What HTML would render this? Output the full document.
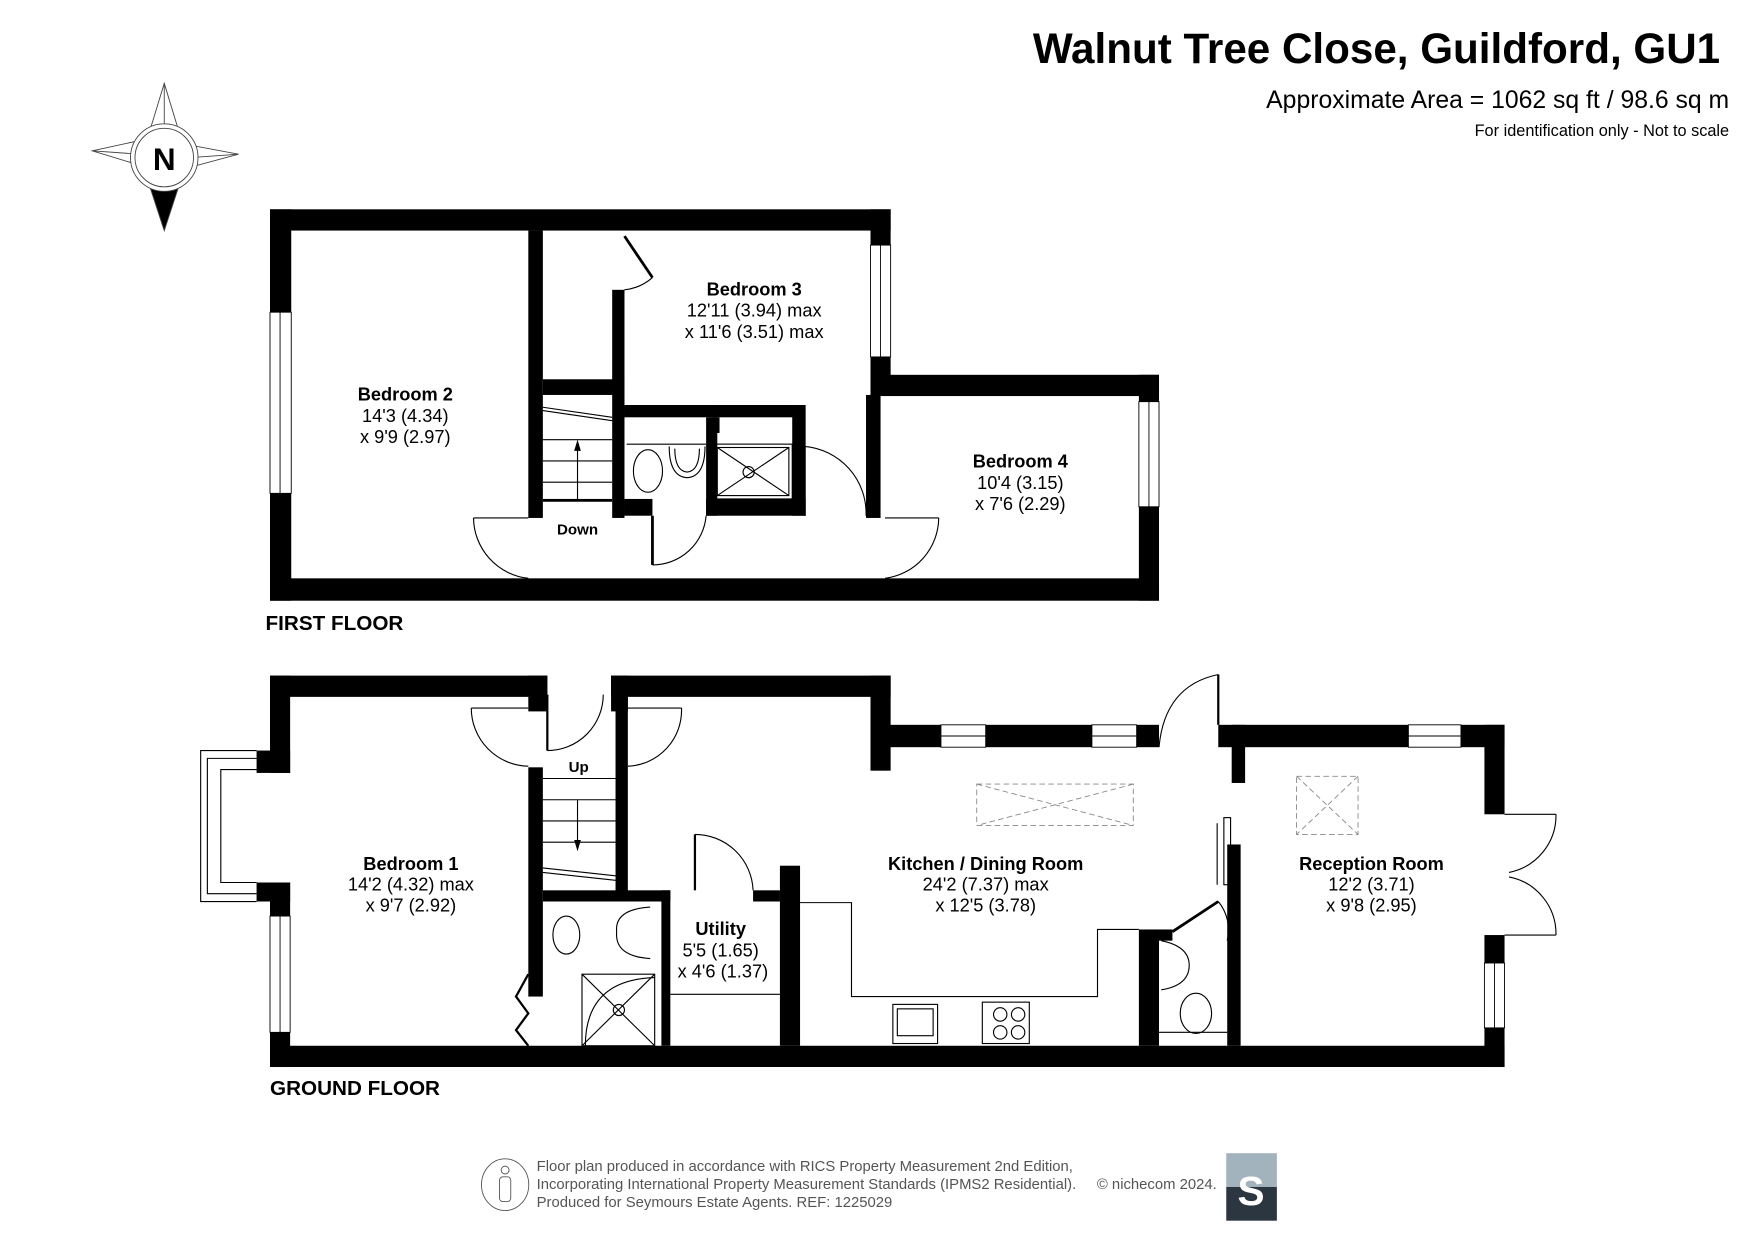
<!DOCTYPE html>
<html><head><meta charset="utf-8"><style>
html,body{margin:0;padding:0;background:#fff;}
svg{display:block;}
text{font-family:"Liberation Sans",Arial,sans-serif;}
.rn{font-weight:bold;font-size:16.3px;text-anchor:middle;}
.dm{font-size:16.3px;text-anchor:middle;}
.th{fill:none;stroke:#000;stroke-width:1;}
.tg{fill:none;stroke:#555;stroke-width:0.8;}
</style></head><body>
<svg width="1755" height="1241" viewBox="0 0 1560 1103" xmlns="http://www.w3.org/2000/svg">
<rect width="1560" height="1103" fill="#fff"/>
<text x="1529" y="56" font-size="37.5" font-weight="bold" text-anchor="end">Walnut Tree Close, Guildford, GU1</text>
<text x="1537" y="96" font-size="22" text-anchor="end">Approximate Area = 1062 sq ft / 98.6 sq m</text>
<text x="1537" y="121" font-size="14.5" text-anchor="end">For identification only - Not to scale</text>

<g stroke="#444" stroke-width="0.8" fill="#fff">
<polygon points="146,74 160,120 146,140 132,120"/>
<polygon points="82,134 128,124 146,140 128,148"/>
<polygon points="212,137 164,128 146,140 164,150"/>
<line x1="146" y1="74" x2="146" y2="118"/><line x1="82" y1="134" x2="124" y2="137"/><line x1="212" y1="137" x2="170" y2="140"/>
<polygon points="128,150 164,150 146,205" fill="#000"/>
<circle cx="146" cy="140" r="30"/><circle cx="146" cy="140" r="26"/>
</g>
<text x="146" y="151" font-size="28" font-weight="bold" text-anchor="middle">N</text>

<g transform="translate(240,186) scale(0.994) translate(-240,-186)">
<g fill="#000">
<rect x="240" y="186" width="555" height="19"/>
<rect x="240" y="186" width="19" height="350"/>
<rect x="240" y="516" width="795" height="20"/>
<rect x="777" y="186" width="18" height="166"/>
<rect x="777" y="334" width="258" height="19"/>
<rect x="1017" y="334" width="18" height="202"/>
<rect x="471" y="205" width="13" height="257"/>
<rect x="484" y="338" width="73" height="14"/>
<rect x="546" y="258" width="11" height="204"/>
<rect x="557" y="361" width="158" height="11"/>
<rect x="630" y="372" width="10" height="88"/>
<rect x="636" y="372" width="6" height="14"/>
<rect x="707" y="361" width="12" height="99"/>
<rect x="630" y="445" width="89" height="15"/>
<rect x="557" y="445" width="25" height="15"/>
<rect x="773" y="352" width="13" height="110"/>
<rect x="484" y="445" width="62" height="2"/>
</g>
<g fill="#fff" stroke="#000" stroke-width="0.8">
<rect x="240" y="278" width="19" height="162"/><line x1="249" y1="278" x2="249" y2="440"/>
<rect x="777" y="218" width="18" height="100"/><line x1="786" y1="218" x2="786" y2="318"/>
<rect x="1017" y="358" width="18" height="94"/><line x1="1026" y1="358" x2="1026" y2="452"/>
</g>
<rect x="636" y="342" width="71" height="19" fill="#fff"/>
<g class="th">
<line x1="484" y1="392" x2="546" y2="392"/><line x1="484" y1="411" x2="546" y2="411"/><line x1="484" y1="430" x2="546" y2="430"/><line x1="484" y1="447" x2="546" y2="447"/>
<line x1="515" y1="447" x2="515" y2="395"/>
<line x1="484" y1="363" x2="546" y2="372"/><line x1="484" y1="366" x2="546" y2="375"/>
</g>
<polygon points="515,392 512,402 518,402" fill="#000"/>
<text x="515" y="477" font-size="13.5" font-weight="bold" text-anchor="middle">Down</text>
<g class="th">
<line x1="557" y1="210" x2="582" y2="247" stroke-width="2.5"/><path d="M582,247 A45,45 0 0 1 557,258"/>
<line x1="422" y1="462" x2="471" y2="462"/><path d="M422,462 A55,55 0 0 0 471,516"/>
<line x1="790" y1="462" x2="838" y2="462"/><path d="M838,462 A55,55 0 0 1 790,516"/>
<line x1="582" y1="460" x2="582" y2="504" stroke-width="2.5"/><path d="M582,504 A48,48 0 0 0 630,460"/>
<line x1="718" y1="398" x2="718" y2="460" stroke-width="2"/><path d="M718,398 A60,60 0 0 1 773,460"/>
</g>
<g class="th">
<line x1="559" y1="396" x2="630" y2="396"/>
<ellipse cx="578" cy="420" rx="13" ry="19"/>
<path d="M597,398 Q597,425 613,426 Q629,425 629,398"/><path d="M602,400 Q602,420 613,421 Q624,420 624,400"/>
<rect x="637" y="396" width="70" height="49"/><rect x="640" y="399" width="64" height="43"/>
<line x1="640" y1="399" x2="704" y2="442"/><line x1="704" y1="399" x2="640" y2="442"/>
<circle cx="668" cy="421" r="5"/>
</g>
<text x="361" y="357" class="rn">Bedroom 2</text><text x="361" y="376" class="dm">14'3 (4.34)</text><text x="361" y="395" class="dm">x 9'9 (2.97)</text>
<text x="673" y="263" class="rn">Bedroom 3</text><text x="673" y="282" class="dm">12'11 (3.94) max</text><text x="673" y="301" class="dm">x 11'6 (3.51) max</text>
<text x="911" y="417" class="rn">Bedroom 4</text><text x="911" y="436" class="dm">10'4 (3.15)</text><text x="911" y="455" class="dm">x 7'6 (2.29)</text>
<text x="236" y="562" font-size="18.5" font-weight="bold">FIRST FLOOR</text>

<g fill="#000">
<rect x="240" y="603" width="248" height="19"/>
<rect x="545" y="603" width="250" height="19"/>
<rect x="471" y="603" width="17" height="32"/>
<rect x="545" y="603" width="15" height="32"/>
<rect x="240" y="603" width="18" height="87"/>
<rect x="228" y="670" width="30" height="20"/>
<rect x="228" y="788" width="30" height="17"/>
<rect x="240" y="788" width="18" height="165"/>
<rect x="240" y="934" width="1104" height="19"/>
<rect x="777" y="603" width="18" height="85"/>
<rect x="777" y="647" width="258" height="20"/>
<rect x="1088" y="647" width="256" height="20"/>
<rect x="1326" y="647" width="18" height="80"/>
<rect x="1326" y="835" width="18" height="118"/>
<rect x="1100" y="647" width="12" height="52"/>
<rect x="1096" y="754" width="12" height="180"/>
<rect x="1017" y="830" width="18" height="104"/>
<rect x="1035" y="830" width="12" height="10"/>
<rect x="471" y="685" width="13" height="205"/>
<rect x="549" y="622" width="11" height="180"/>
<rect x="484" y="795" width="114" height="10"/>
<rect x="590" y="795" width="8" height="139"/>
<rect x="672" y="795" width="24" height="10"/>
<rect x="696" y="773" width="18" height="161"/>
</g>
<g fill="#fff" stroke="#000" stroke-width="0.8">
<rect x="240" y="818" width="18" height="104"/><line x1="249" y1="818" x2="249" y2="922"/>
<rect x="840" y="647" width="40" height="20"/><line x1="840" y1="657" x2="880" y2="657"/>
<rect x="975" y="647" width="40" height="20"/><line x1="975" y1="657" x2="1015" y2="657"/>
<rect x="1258" y="647" width="47" height="20"/><line x1="1258" y1="657" x2="1305" y2="657"/>
<rect x="1326" y="860" width="18" height="58"/><line x1="1335" y1="860" x2="1335" y2="918"/>
</g>
<g class="th">
<polyline points="228,670 178,670 178,805 228,805"/>
<polyline points="228,677 184,677 184,798 228,798"/>
<polyline points="228,687 196,687 196,788 228,788"/>
</g>
<g class="th">
<line x1="484" y1="695" x2="549" y2="695"/><line x1="484" y1="714" x2="549" y2="714"/><line x1="484" y1="733" x2="549" y2="733"/><line x1="484" y1="752" x2="549" y2="752"/>
<line x1="515" y1="714" x2="515" y2="752"/>
<line x1="484" y1="775" x2="549" y2="782"/><line x1="484" y1="779" x2="549" y2="786"/>
</g>
<polygon points="515,760 512,750 518,750" fill="#000"/>
<text x="516" y="689" font-size="13.5" font-weight="bold" text-anchor="middle">Up</text>
<g class="th">
<line x1="420" y1="632" x2="471" y2="632"/><path d="M420,632 A52,52 0 0 0 471,684"/>
<line x1="488" y1="620" x2="488" y2="670" stroke-width="2"/><path d="M488,670 A50,50 0 0 0 538,620"/>
<line x1="560" y1="632" x2="608" y2="632"/><path d="M608,632 A50,50 0 0 1 560,684"/>
<line x1="620" y1="745" x2="620" y2="795" stroke-width="2"/><path d="M620,745 A52,52 0 0 1 672,795"/>
<path d="M1035,667 Q1040,612 1088,602"/><line x1="1088" y1="602" x2="1088" y2="647" stroke-width="2"/>
<line x1="1047" y1="832" x2="1088" y2="805" stroke-width="2.5"/><path d="M1088,805 A40,40 0 0 1 1096,840"/>
<rect x="1093" y="730" width="6" height="60"/><line x1="1087" y1="735" x2="1087" y2="790"/>
<line x1="1344" y1="727" x2="1390" y2="727"/><path d="M1390,727 A52,52 0 0 1 1348,779"/>
<line x1="1344" y1="835" x2="1390" y2="835"/><path d="M1390,835 A52,52 0 0 0 1348,783"/>
<polyline points="471,870 460,890 471,905 460,920 471,934" stroke-width="2"/>
<line x1="1035" y1="922" x2="1096" y2="922"/>
<line x1="598" y1="888" x2="696" y2="888"/>
</g>
<polyline points="714,806 760,806 760,890 980,890 980,830 1017,830" class="th"/>
<g fill="none" stroke="#888" stroke-width="0.8" stroke-dasharray="5,3">
<rect x="872" y="700" width="140" height="37"/><line x1="872" y1="700" x2="1012" y2="737"/><line x1="1012" y1="700" x2="872" y2="737"/>
<rect x="1158" y="693" width="55" height="52"/><line x1="1158" y1="693" x2="1213" y2="745"/><line x1="1213" y1="693" x2="1158" y2="745"/>
</g>
<g class="th">
<rect x="797" y="897" width="40" height="35"/><rect x="801" y="901" width="32" height="24"/>
<rect x="877" y="895" width="42" height="37"/>
<circle cx="893" cy="906" r="6"/><circle cx="909" cy="906" r="6"/><circle cx="893" cy="922" r="6"/><circle cx="909" cy="922" r="6"/>
<ellipse cx="505" cy="835" rx="12" ry="17"/>
<path d="M580,810 Q548,812 550,832 Q548,854 580,856"/>
<rect x="519" y="870" width="65" height="64"/><line x1="519" y1="934" x2="584" y2="870"/><line x1="519" y1="870" x2="584" y2="934"/>
<path d="M584,873 Q522,875 522,934"/>
<circle cx="552" cy="902" r="5"/>
<path d="M1037,840 Q1062,845 1062,862 Q1062,880 1037,884"/>
<ellipse cx="1068" cy="905" rx="14" ry="18"/>
</g>
<text x="366" y="777" class="rn">Bedroom 1</text><text x="366" y="795" class="dm">14'2 (4.32) max</text><text x="366" y="814" class="dm">x 9'7 (2.92)</text>
<text x="643" y="835" class="rn">Utility</text><text x="643" y="854" class="dm">5'5 (1.65)</text><text x="645" y="873" class="dm">x 4'6 (1.37)</text>
<text x="880" y="777" class="rn">Kitchen / Dining Room</text><text x="880" y="795" class="dm">24'2 (7.37) max</text><text x="880" y="814" class="dm">x 12'5 (3.78)</text>
<text x="1225" y="777" class="rn">Reception Room</text><text x="1225" y="795" class="dm">12'2 (3.71)</text><text x="1225" y="814" class="dm">x 9'8 (2.95)</text>
<text x="240" y="978" font-size="18.5" font-weight="bold">GROUND FLOOR</text>
</g>

<g class="tg"><ellipse cx="449" cy="1053" rx="21" ry="23"/><circle cx="449" cy="1040" r="3.5"/><rect x="444" y="1046" width="10" height="22" rx="3"/></g>
<g font-size="13.2" fill="#555">
<text x="477" y="1041">Floor plan produced in accordance with RICS Property Measurement 2nd Edition,</text>
<text x="477" y="1057">Incorporating International Property Measurement Standards (IPMS2 Residential).</text>
<text x="477" y="1073">Produced for Seymours Estate Agents.   REF: 1225029</text>
<text x="975" y="1057">© nichecom 2024.</text>
</g>
<rect x="1090" y="1025" width="45" height="30" fill="#a3b3bd"/>
<rect x="1090" y="1055" width="45" height="30" fill="#2c3640"/>
<text x="1112" y="1071" font-family="Liberation Serif,serif" font-size="36" font-weight="bold" fill="#fff" text-anchor="middle">S</text>
</svg>
</body></html>
